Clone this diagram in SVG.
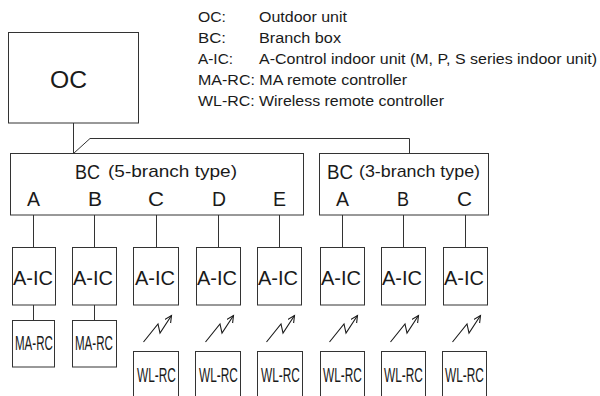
<svg xmlns="http://www.w3.org/2000/svg" width="600" height="396" viewBox="0 0 600 396">
<style>
  .box{fill:#fff;stroke:#333;stroke-width:1}
  .ln{fill:none;stroke:#333;stroke-width:1}
  text{font-family:"Liberation Sans",Arial,sans-serif;fill:#1a1a1a}
  .lg{font-size:14px}
  .big{font-size:20px}
  .rc{font-size:21px}
  .mid{font-size:17px}
</style>
<defs>
  <marker id="arr" markerUnits="userSpaceOnUse" markerWidth="10" markerHeight="10" refX="7" refY="3.5" orient="auto">
    <path d="M0,0 L7,3.5 L0,7" fill="none" stroke="#1a1a1a" stroke-width="1.1"/>
  </marker>
  <path id="bolt" d="M-13,37 L1.5,19 L3.5,28 L15,10.5" fill="none" stroke="#1a1a1a" stroke-width="1.1" marker-end="url(#arr)"/>
</defs>
<rect width="600" height="396" fill="#fff"/>

<g id="legend">
  <text class="lg" x="198" y="22" textLength="28" lengthAdjust="spacingAndGlyphs">OC:</text>
  <text class="lg" x="259" y="22" textLength="88" lengthAdjust="spacingAndGlyphs">Outdoor unit</text>
  <text class="lg" x="198" y="43" textLength="28" lengthAdjust="spacingAndGlyphs">BC:</text>
  <text class="lg" x="259" y="43" textLength="82" lengthAdjust="spacingAndGlyphs">Branch box</text>
  <text class="lg" x="198" y="64" textLength="35" lengthAdjust="spacingAndGlyphs">A-IC:</text>
  <text class="lg" x="259" y="64" textLength="338" lengthAdjust="spacingAndGlyphs">A-Control indoor unit (M, P, S series indoor unit)</text>
  <text class="lg" x="198" y="85" textLength="209" lengthAdjust="spacingAndGlyphs">MA-RC: MA remote controller</text>
  <text class="lg" x="198" y="106" textLength="246" lengthAdjust="spacingAndGlyphs">WL-RC: Wireless remote controller</text>
</g>

<g id="connectors">
  <path class="ln" d="M73.5,123 V153.5 L90,138.5 H409.5 V153.5"/>
  <path class="ln" d="M33.5,215 V247 M94.5,215 V247 M156.5,215 V247 M218.5,215 V247 M279.5,215 V247 M342.5,215 V247 M403.5,215 V247 M465.5,215 V247"/>
  <path class="ln" d="M33.5,305 V320 M94.5,305 V320"/>
  <use href="#bolt" x="156.5" y="305"/>
  <use href="#bolt" x="218.5" y="305"/>
  <use href="#bolt" x="279.5" y="305"/>
  <use href="#bolt" x="342.5" y="305"/>
  <use href="#bolt" x="403.5" y="305"/>
  <use href="#bolt" x="465.5" y="305"/>
</g>

<g id="oc">
  <rect class="box" x="8.5" y="32.5" width="130" height="90.5"/>
  <text x="50" y="88" font-size="23" textLength="37" lengthAdjust="spacingAndGlyphs">OC</text>
</g>

<g id="bc5">
  <rect class="box" x="10.5" y="153.5" width="293" height="61.5"/>
  <text class="big" x="75" y="179" textLength="25" lengthAdjust="spacingAndGlyphs">BC</text>
  <text class="mid" x="108" y="177" textLength="129" lengthAdjust="spacingAndGlyphs">(5-branch type)</text>
  <text class="big" x="27" y="206" textLength="13" lengthAdjust="spacingAndGlyphs">A</text>
  <text class="big" x="88" y="206" textLength="14" lengthAdjust="spacingAndGlyphs">B</text>
  <text class="big" x="148" y="206" textLength="16" lengthAdjust="spacingAndGlyphs">C</text>
  <text class="big" x="212" y="206" textLength="14" lengthAdjust="spacingAndGlyphs">D</text>
  <text class="big" x="273" y="206" textLength="13" lengthAdjust="spacingAndGlyphs">E</text>
</g>

<g id="bc3">
  <rect class="box" x="319.5" y="153.5" width="169" height="61.5"/>
  <text class="big" x="327" y="179" textLength="26" lengthAdjust="spacingAndGlyphs">BC</text>
  <text class="mid" x="359" y="177" textLength="121" lengthAdjust="spacingAndGlyphs">(3-branch type)</text>
  <text class="big" x="336" y="206" textLength="13" lengthAdjust="spacingAndGlyphs">A</text>
  <text class="big" x="397" y="206" textLength="12" lengthAdjust="spacingAndGlyphs">B</text>
  <text class="big" x="457" y="206" textLength="15" lengthAdjust="spacingAndGlyphs">C</text>
</g>

<g id="aic1"><rect class="box" x="12.5" y="247.5" width="43" height="57.5"/><text class="big" x="13" y="285" textLength="40" lengthAdjust="spacingAndGlyphs">A-IC</text></g>
<g id="aic2"><rect class="box" x="72.5" y="247.5" width="44" height="57.5"/><text class="big" x="73" y="285" textLength="40" lengthAdjust="spacingAndGlyphs">A-IC</text></g>
<g id="aic3"><rect class="box" x="133.5" y="247.5" width="45" height="57.5"/><text class="big" x="135" y="285" textLength="40" lengthAdjust="spacingAndGlyphs">A-IC</text></g>
<g id="aic4"><rect class="box" x="196.5" y="247.5" width="44" height="57.5"/><text class="big" x="197" y="285" textLength="40" lengthAdjust="spacingAndGlyphs">A-IC</text></g>
<g id="aic5"><rect class="box" x="257.5" y="247.5" width="44" height="57.5"/><text class="big" x="258" y="285" textLength="40" lengthAdjust="spacingAndGlyphs">A-IC</text></g>
<g id="aic6"><rect class="box" x="320.5" y="247.5" width="44" height="57.5"/><text class="big" x="321" y="285" textLength="40" lengthAdjust="spacingAndGlyphs">A-IC</text></g>
<g id="aic7"><rect class="box" x="381.5" y="247.5" width="44" height="57.5"/><text class="big" x="382" y="285" textLength="40" lengthAdjust="spacingAndGlyphs">A-IC</text></g>
<g id="aic8"><rect class="box" x="443.5" y="247.5" width="44" height="57.5"/><text class="big" x="444" y="285" textLength="40" lengthAdjust="spacingAndGlyphs">A-IC</text></g>

<g id="marc1"><rect class="box" x="12.5" y="320.5" width="42" height="46.5"/><text class="rc" transform="translate(15,350) scale(0.55,1)">MA-RC</text></g>
<g id="marc2"><rect class="box" x="72.5" y="320.5" width="44" height="46.5"/><text class="rc" transform="translate(75,350) scale(0.55,1)">MA-RC</text></g>

<g id="wlrc1"><rect class="box" x="133.5" y="351.5" width="45" height="46"/><text class="rc" transform="translate(137,382) scale(0.565,1)">WL-RC</text></g>
<g id="wlrc2"><rect class="box" x="195.5" y="351.5" width="45" height="46"/><text class="rc" transform="translate(199,382) scale(0.565,1)">WL-RC</text></g>
<g id="wlrc3"><rect class="box" x="257.5" y="351.5" width="45" height="46"/><text class="rc" transform="translate(261,382) scale(0.565,1)">WL-RC</text></g>
<g id="wlrc4"><rect class="box" x="320.5" y="351.5" width="44" height="46"/><text class="rc" transform="translate(323,382) scale(0.565,1)">WL-RC</text></g>
<g id="wlrc5"><rect class="box" x="381.5" y="351.5" width="44" height="46"/><text class="rc" transform="translate(384,382) scale(0.565,1)">WL-RC</text></g>
<g id="wlrc6"><rect class="box" x="442.5" y="351.5" width="44" height="46"/><text class="rc" transform="translate(445,382) scale(0.565,1)">WL-RC</text></g>
</svg>
